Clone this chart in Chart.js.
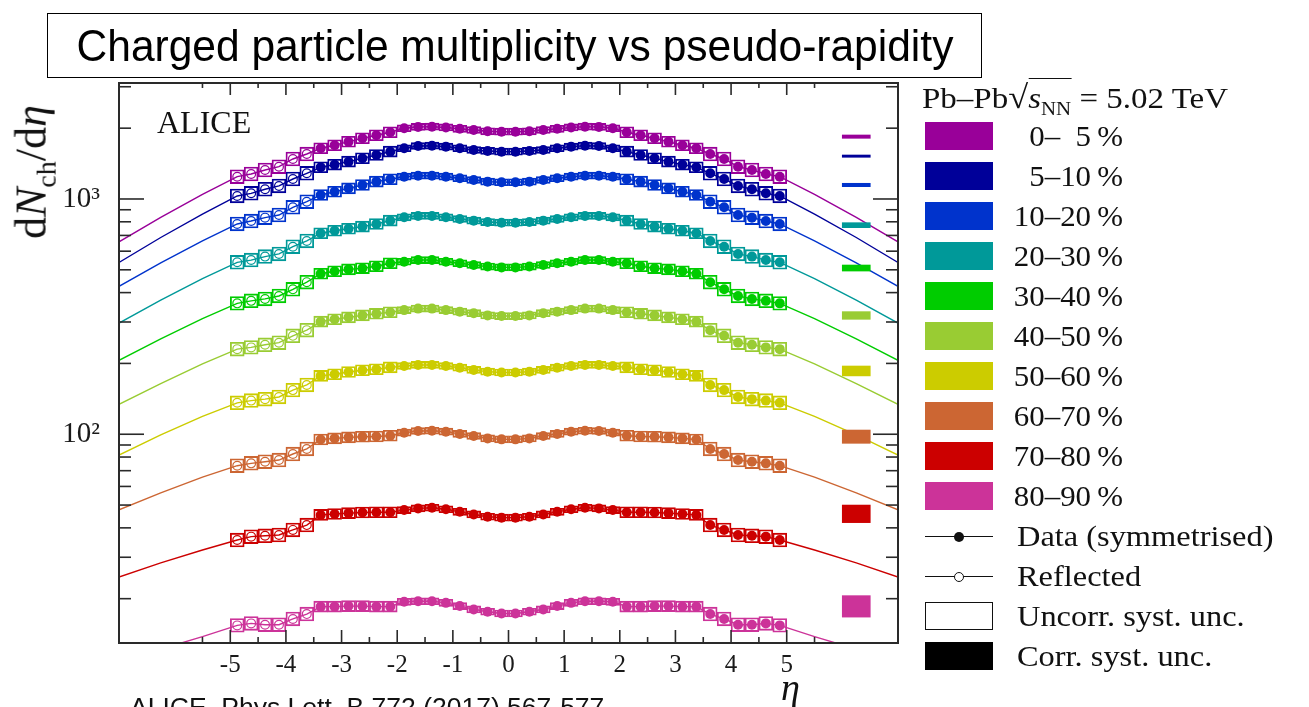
<!DOCTYPE html>
<html>
<head>
<meta charset="utf-8">
<title>Charged particle multiplicity vs pseudo-rapidity</title>
<script src="https://cdn.jsdelivr.net/npm/chart.js@4.4.1/dist/chart.umd.min.js"></script>
<style>
  html, body { margin: 0; padding: 0; background: #fff; }
  body { width: 1309px; height: 707px; position: relative; overflow: hidden; }
  #plot { position: absolute; left: 0; top: 0; }
  .txt { position: absolute; white-space: nowrap; color: #111; line-height: 1; }
  .serif { font-family: 'Liberation Serif', 'DejaVu Serif', serif; }
  .sans { font-family: 'Liberation Sans', Arial, sans-serif; }
  #title { position: absolute; left: 47px; top: 13px; width: 933px; height: 63px;
           border: 1.5px solid #000; text-align: center; }
  #title span { display: inline-block; font-size: 45px; line-height: 63px; transform: scaleX(0.945); color: #000; }
  .swatch { position: absolute; left: 925px; width: 68px; height: 28px; }
  .lab { position: absolute; font-size: 30px; line-height: 28px; white-space: nowrap; color: #111; }
  .pct { left: 990px; width: 133px; text-align: right; transform: scaleX(1.03); transform-origin: right center; }
  .plain { left: 1017px; transform: scaleX(1.08); transform-origin: left center; }
  .mline { position: absolute; left: 925px; width: 68px; height: 0; border-top: 1.5px solid #111; }
  .dot { position: absolute; border-radius: 50%; }
  .ovl { border-top: 1.5px solid #111; padding-top: 2px; }
</style>
</head>
<body>
<canvas id="plot" width="1309" height="707"></canvas>

<div id="title" class="sans"><span>Charged particle multiplicity vs pseudo-rapidity</span></div>
<div class="txt serif" style="left:157px; top:106px; font-size:32px;">ALICE</div>
<div class="txt serif" style="left:35px; top:172px; font-size:44px; transform: translate(-50%, -50%) rotate(-90deg);">d<i>N</i><sub style="font-size:28px;">ch</sub>/d<i>η</i></div>
<div class="txt serif" style="left:781px; top:668px; font-size:38px;"><i>η</i></div>
<div class="txt sans" style="left:130px; top:694px; font-size:26.5px;">ALICE, Phys.Lett. B 772 (2017) 567-577</div>
<div class="txt serif" style="left:922px; top:81px; font-size:30px; transform: scaleX(1.1); transform-origin: left center;">Pb–Pb<span style="font-size:33px;">√</span><span class="ovl"><i>s</i><sub style="font-size:19px;">NN</sub></span> = 5.02 TeV</div>
<div id="legend"></div>

<script>
// |eta| bin centres of the symmetrised measurement
const etaBins = [0.125, 0.375, 0.625, 0.875, 1.125, 1.375, 1.625, 1.875, 2.125, 2.375,
                 2.625, 2.875, 3.125, 3.375, 3.625, 3.875, 4.125, 4.375, 4.625, 4.875];
// bins beyond this |eta| are only measured on one side and reflected to the other
const reflectAbove = 3.5;

// dNch/deta per |eta| bin, one array per centrality class
const c0_5   = [1932, 1940, 1965, 1987, 2014, 2029, 2025, 1998, 1921, 1866, 1811, 1752, 1692, 1643, 1553, 1479, 1372, 1328, 1277, 1244];
const c5_10  = [1589, 1600, 1615, 1643, 1669, 1685, 1680, 1643, 1589, 1538, 1489, 1441, 1399, 1364, 1286, 1216, 1136, 1100, 1057, 1030];
const c10_20 = [1178, 1185, 1204, 1225, 1244, 1256, 1256, 1244, 1213, 1185, 1147, 1110, 1074, 1040, 974, 922, 855, 833, 806, 783];
const c20_30 = [793, 798, 809, 822, 836, 847, 847, 836, 809, 783, 763, 747, 733, 715, 663, 627, 584, 569, 550, 538];
const c30_40 = [512, 516, 524, 533, 541, 550, 550, 541, 533, 518, 508, 502, 493, 481, 443, 413, 387, 376, 369, 360];
const c40_50 = [318, 320, 327, 332, 337, 342, 342, 337, 330, 325, 320, 314, 308, 301, 277, 262, 245, 240, 234, 230];
const c50_60 = [183, 184.5, 187.6, 191.8, 195, 197, 197, 195, 192.5, 189, 187, 184, 180, 177, 162, 154, 144, 141, 139, 136];
const c60_70 = [95.1, 96, 98.3, 100.3, 102.5, 103.5, 103.2, 101.5, 98.5, 97.8, 97.6, 97, 96, 95, 86.6, 82.4, 77.7, 76.4, 75.2, 73.5];
const c70_80 = [44.2, 44.6, 45.6, 46.8, 48.0, 48.7, 48.4, 47.6, 46.6, 46.6, 46.5, 46.2, 45.8, 45.4, 41.1, 39.2, 37.3, 37.0, 36.7, 35.5];
const c80_90 = [17.3, 17.6, 18.0, 18.6, 19.2, 19.5, 19.5, 19.4, 18.5, 18.5, 18.6, 18.6, 18.5, 18.5, 17.2, 16.4, 15.5, 15.5, 15.7, 15.4];

// relative uncorrelated systematic uncertainty per |eta| bin
const uncorrSyst = [0.035, 0.035, 0.035, 0.035, 0.035, 0.035, 0.035, 0.035, 0.055, 0.055,
                    0.055, 0.055, 0.055, 0.055, 0.07, 0.07, 0.07, 0.07, 0.07, 0.07];

// fit curve beyond the data, at |eta| = 5.5, 6.25, 7
const tailEta = [5.5, 6.25, 7];
const t0_5   = [1046, 835, 657];
const t5_10  = [863, 686, 537];
const t10_20 = [664, 535, 425];
const t20_30 = [459, 372, 297];
const t30_40 = [310, 254.5, 206];
const t40_50 = [199, 164, 134];
const t50_60 = [119, 99.3, 81.6];
const t60_70 = [65.7, 56.3, 47.7];
const t70_80 = [32.2, 28.4, 24.7];
const t80_90 = [13.8, 12.2, 10.8];

// correlated systematic band per class, drawn at eta = corrEta
const corrEta = 6.25;
const corrLow  = [1811, 1504, 1128, 755, 494, 308, 177, 91.5, 42.1, 16.7];
const corrHigh = [1871, 1538, 1166, 793, 524, 332, 195, 104.2, 50.0, 20.6];

const classLabels = ['0–\u20075', '5–10', '10–20', '20–30', '30–40', '40–50', '50–60', '60–70', '70–80', '80–90'];
const classColors = ['#990099', '#000099', '#0033cc', '#009999', '#00cc00', '#99cc33', '#cccc00', '#cc6633', '#cc0000', '#cc3399'];
const classValues = [c0_5, c5_10, c10_20, c20_30, c30_40, c40_50, c50_60, c60_70, c70_80, c80_90];
const classTails  = [t0_5, t5_10, t10_20, t20_30, t30_40, t40_50, t50_60, t60_70, t70_80, t80_90];

// axis ticks
const etaTicks = [-5.5, -5, -4.5, -4, -3.5, -3, -2.5, -2, -1.5, -1, -0.5, 0, 0.5, 1, 1.5, 2, 2.5, 3, 3.5, 4, 4.5, 5, 5.5];
const yTicks = [20, 30, 40, 50, 60, 70, 80, 90, 100, 200, 300, 400, 500, 600, 700, 800, 900, 1000, 2000, 3000];
const yMin = 12.96, yMax = 3112;

const SERIF = "'Liberation Serif', 'DejaVu Serif', serif";

const datasets = [];
classValues.forEach((vals, i) => {
  const col = classColors[i];
  const tail = classTails[i];
  const reflected = [], measured = [], boxes = [];
  // negative side: reflected bins first, then the mirrored symmetrised bins
  for (let k = etaBins.length - 1; k >= 0; k--) {
    const p = { x: -etaBins[k], y: vals[k] };
    if (etaBins[k] > reflectAbove) reflected.push(p); else measured.push(p);
  }
  etaBins.forEach((e, k) => measured.push({ x: e, y: vals[k] }));
  [...reflected, ...measured].forEach(p => {
    const k = etaBins.indexOf(Math.abs(p.x));
    const f = 1 + uncorrSyst[k];
    boxes.push({ x: p.x, y: [p.y / f, p.y * f] });
  });
  const fit = [];
  for (let k = tailEta.length - 1; k >= 0; k--) fit.push({ x: -tailEta[k], y: tail[k] });
  fit.push(...reflected, ...measured);
  tailEta.forEach((e, k) => fit.push({ x: e, y: tail[k] }));

  datasets.push({
    type: 'line', label: classLabels[i] + ' fit', data: fit,
    borderColor: col, borderWidth: 1.4, pointRadius: 0, fill: false, order: 3
  });
  datasets.push({
    type: 'bar', label: classLabels[i] + ' uncorr', data: boxes,
    backgroundColor: 'rgba(0,0,0,0)', borderColor: col, borderWidth: 1.2, borderSkipped: false,
    grouped: false, barPercentage: 1, categoryPercentage: 1, order: 2
  });
  datasets.push({
    type: 'bar', label: classLabels[i] + ' corr', data: [{ x: corrEta, y: [corrLow[i], corrHigh[i]] }],
    backgroundColor: col, borderWidth: 0, grouped: false, barThickness: 28, order: 2
  });
  datasets.push({
    type: 'line', label: classLabels[i], data: measured, showLine: false,
    pointRadius: 5, pointBackgroundColor: col, pointBorderColor: col, pointBorderWidth: 0, order: 1
  });
  datasets.push({
    type: 'line', label: classLabels[i] + ' reflected', data: reflected, showLine: false,
    pointRadius: 4.4, pointBackgroundColor: 'rgba(0,0,0,0)', pointBorderColor: col, pointBorderWidth: 1.2, order: 1
  });
});

// inward tick marks on all four sides plus the frame
const frameTicks = {
  id: 'frameTicks',
  afterDatasetsDraw(chart) {
    const { ctx, chartArea: a, scales: { x, y } } = chart;
    const seg = (x0, y0, x1, y1) => { ctx.beginPath(); ctx.moveTo(x0, y0); ctx.lineTo(x1, y1); ctx.stroke(); };
    ctx.save();
    ctx.strokeStyle = '#2a2a2a';
    ctx.lineWidth = 1.6;
    x.ticks.forEach(t => {
      const px = x.getPixelForValue(t.value);
      const major = Number.isInteger(t.value);
      seg(px, a.bottom, px, a.bottom - (major ? 13 : 6));
      seg(px, a.top, px, a.top + (major ? 12 : 5));
    });
    y.ticks.forEach(t => {
      const py = y.getPixelForValue(t.value);
      const major = Number.isInteger(Math.log10(t.value));
      const len = major ? 25 : 12;
      seg(a.left, py, a.left + len, py);
      seg(a.right, py, a.right - len, py);
    });
    ctx.lineWidth = 2;
    ctx.strokeRect(a.left, a.top, a.right - a.left, a.bottom - a.top);
    ctx.restore();
  }
};

new Chart(document.getElementById('plot'), {
  type: 'line',
  data: { datasets },
  options: {
    responsive: false,
    animation: false,
    devicePixelRatio: 1,
    layout: { padding: { left: 0, top: 83, right: 411, bottom: 0 } },
    plugins: { legend: { display: false }, tooltip: { enabled: false } },
    scales: {
      x: {
        type: 'linear', min: -7, max: 7, offset: false,
        grid: { display: false, drawTicks: false }, border: { display: false },
        ticks: {
          autoSkip: false, maxRotation: 0, padding: 7, color: '#1a1a1a',
          font: { family: SERIF, size: 25 },
          callback: v => Number.isInteger(v) ? String(v) : ''
        },
        afterBuildTicks: s => { s.ticks = etaTicks.map(v => ({ value: v })); },
        afterFit: s => { s.height = 64; }
      },
      y: {
        type: 'logarithmic', min: yMin, max: yMax,
        grid: { display: false, drawTicks: false }, border: { display: false },
        ticks: {
          autoSkip: false, padding: 19, color: '#1a1a1a',
          font: { family: SERIF, size: 29 },
          callback: v => v === 1000 ? '10³' : (v === 100 ? '10²' : '')
        },
        afterBuildTicks: s => { s.ticks = yTicks.map(v => ({ value: v })); },
        afterFit: s => { s.width = 119; }
      }
    }
  },
  plugins: [frameTicks]
});

// legend on the right
const legend = document.getElementById('legend');
const add = html => legend.insertAdjacentHTML('beforeend', html);
classLabels.forEach((lab, i) => {
  const top = 122 + 40 * i;
  add(`<div class="swatch" style="top:${top}px; background:${classColors[i]};"></div>`);
  add(`<div class="lab pct serif" style="top:${top}px;">${lab}\u2009%</div>`);
});
const extra = ['Data (symmetrised)', 'Reflected', 'Uncorr. syst. unc.', 'Corr. syst. unc.'];
extra.forEach((lab, j) => {
  const top = 122 + 40 * (classLabels.length + j);
  const mid = top + 14;
  if (j === 0) {
    add(`<div class="mline" style="top:${mid}px;"></div>`);
    add(`<div class="dot" style="left:954px; top:${mid - 4}px; width:10px; height:10px; background:#111;"></div>`);
  } else if (j === 1) {
    add(`<div class="mline" style="top:${mid}px;"></div>`);
    add(`<div class="dot" style="left:954px; top:${mid - 4}px; width:8px; height:8px; background:#fff; border:1.3px solid #111;"></div>`);
  } else if (j === 2) {
    add(`<div class="swatch" style="top:${top}px; box-sizing:border-box; border:1.5px solid #111; background:#fff;"></div>`);
  } else {
    add(`<div class="swatch" style="top:${top}px; background:#000;"></div>`);
  }
  add(`<div class="lab plain serif" style="top:${top}px;">${lab}</div>`);
});
</script>
</body>
</html>
